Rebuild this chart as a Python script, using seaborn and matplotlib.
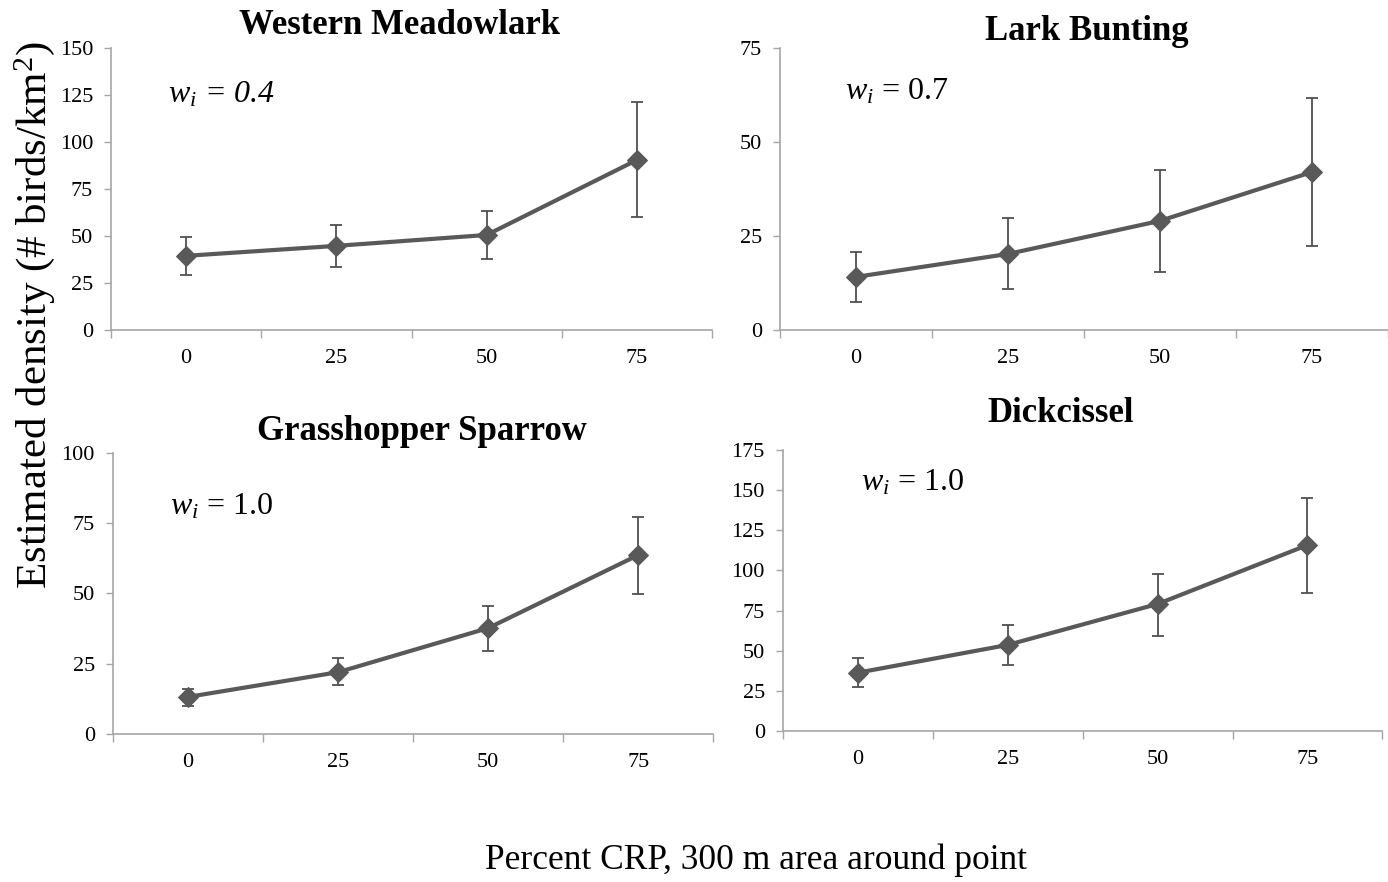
import matplotlib
matplotlib.use("Agg")
import matplotlib.pyplot as plt
import numpy as np
import pandas as pd
import seaborn as sns

sns.set_style("white")
plt.rcParams["font.family"] = ["Liberation Serif", "DejaVu Serif"]
plt.rcParams["mathtext.fontset"] = "custom"
plt.rcParams["mathtext.rm"] = "Liberation Serif"
plt.rcParams["mathtext.it"] = "Liberation Serif:italic"
plt.rcParams["text.color"] = "black"
plt.rcParams["xtick.color"] = "black"
plt.rcParams["ytick.color"] = "black"

crp_levels = ["0", "25", "50", "75"]

species = ["Western Meadowlark", "Lark Bunting", "Grasshopper Sparrow", "Dickcissel"]
weights = ["0.4", "0.7", "1.0", "1.0"]

meadowlark_est = [39.4, 44.7, 50.5, 90.4]
meadowlark_lo = [29.0, 33.5, 37.5, 60.0]
meadowlark_hi = [49.5, 56.0, 63.5, 121.0]

bunting_est = [14.1, 20.2, 29.0, 42.0]
bunting_lo = [7.5, 10.8, 15.5, 22.2]
bunting_hi = [20.7, 29.8, 42.6, 61.8]

sparrow_est = [13.2, 22.0, 37.7, 63.7]
sparrow_lo = [10.0, 17.5, 29.7, 49.8]
sparrow_hi = [16.0, 27.0, 45.7, 77.3]

dickcissel_est = [36.3, 53.6, 79.1, 115.8]
dickcissel_lo = [27.5, 40.9, 59.4, 86.2]
dickcissel_hi = [45.3, 66.3, 98.0, 145.0]

y_max = [150, 75, 100, 175]
y_step = [25, 25, 25, 25]

series = [
    (meadowlark_est, meadowlark_lo, meadowlark_hi),
    (bunting_est, bunting_lo, bunting_hi),
    (sparrow_est, sparrow_lo, sparrow_hi),
    (dickcissel_est, dickcissel_lo, dickcissel_hi),
]

# panel rectangles [left, bottom, width, height] in figure fraction
panel_rects = [
    [0.080, 0.626, 0.433, 0.3196],
    [0.562, 0.626, 0.438, 0.3196],
    [0.0814, 0.1678, 0.4326, 0.3186],
    [0.564, 0.1712, 0.432, 0.3186],
]
title_xy = [(0.48, 1.08), (0.505, 1.06), (0.515, 1.075), (0.463, 1.13)]
note_xy = [(0.095, 0.835), (0.107, 0.845), (0.095, 0.81), (0.13, 0.885)]
italic_all = [True, False, False, False]

line_color = "#595959"
spine_color = "#a6a6a6"

fig = plt.figure(figsize=(13.88, 8.82), dpi=100)

for i, name in enumerate(species):
    est, lo, hi = series[i]
    ax = fig.add_axes(panel_rects[i])
    df = pd.DataFrame({"pos": np.arange(len(crp_levels)), "density": est})
    est_a = np.array(est)
    yerr = np.vstack([est_a - np.array(lo), np.array(hi) - est_a])
    ax.errorbar(df["pos"], df["density"], yerr=yerr, fmt="none",
                ecolor="#505050", elinewidth=1.3, capsize=4, capthick=1.3, zorder=2)
    sns.lineplot(data=df, x="pos", y="density", ax=ax, color=line_color,
                 linewidth=3, marker="D", markersize=10, markeredgecolor=line_color,
                 markerfacecolor=line_color, zorder=3)

    ax.set_xlim(-0.5, len(crp_levels) - 0.5)
    ax.set_ylim(0, y_max[i])
    ax.set_yticks(np.arange(0, y_max[i] + 1, y_step[i]))
    ax.set_xticks(np.arange(len(crp_levels)))
    ax.set_xticklabels(crp_levels)
    ax.set_xticks(np.arange(-0.5, len(crp_levels), 1.0), minor=True)
    ax.tick_params(axis="x", which="major", length=0, pad=14, labelsize=16)
    ax.tick_params(axis="x", which="minor", length=6, width=1, color=spine_color,
                   direction="out", bottom=True)
    ax.tick_params(axis="y", which="major", length=5, width=1, color=spine_color,
                   direction="out", left=True, labelsize=16, pad=8)
    ax.set_xlabel("")
    ax.set_ylabel("")
    for side in ("top", "right"):
        ax.spines[side].set_visible(False)
    for side in ("left", "bottom"):
        ax.spines[side].set_color(spine_color)
        ax.spines[side].set_linewidth(1.2)

    ax.text(title_xy[i][0], title_xy[i][1], name, transform=ax.transAxes,
            ha="center", va="center", fontsize=25, fontweight="bold")
    note = r"$w_i$" + " = " + weights[i]
    ax.text(note_xy[i][0], note_xy[i][1], note, transform=ax.transAxes,
            ha="left", va="center", fontsize=23,
            style="italic" if italic_all[i] else "normal")

fig.text(0.025, 0.643, "Estimated density (# birds/km$^2$)", rotation=90,
         ha="center", va="center", fontsize=31)
fig.text(0.545, 0.025, "Percent CRP, 300 m area around point",
         ha="center", va="center", fontsize=25.5)

fig.savefig("out.png", dpi=100, facecolor="white")
